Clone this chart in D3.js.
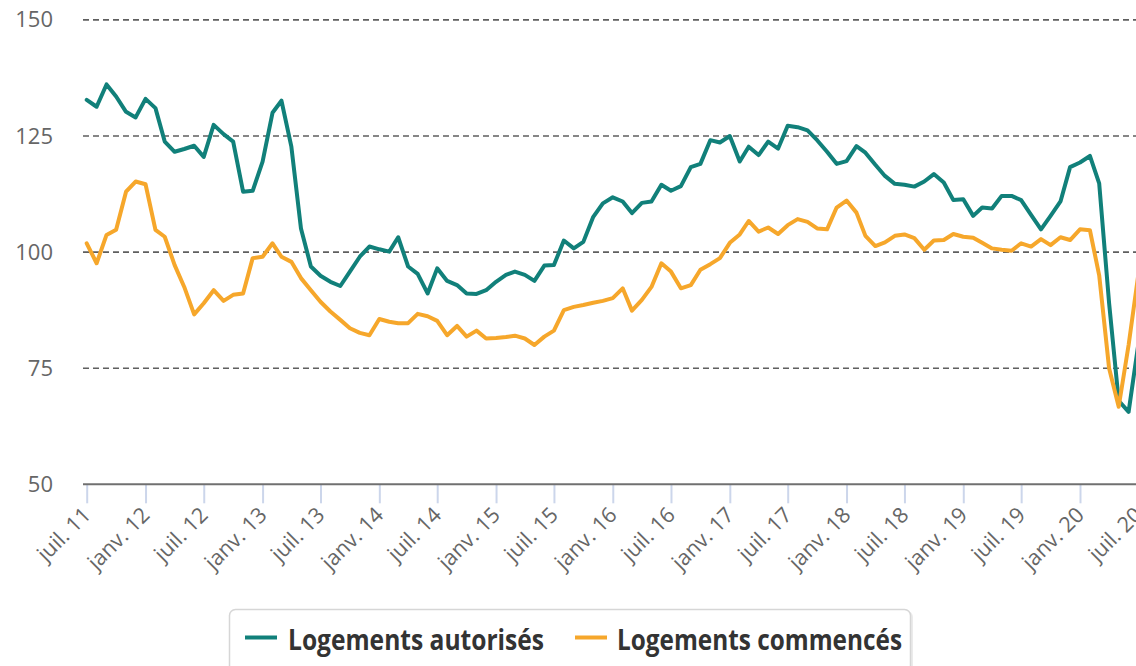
<!DOCTYPE html>
<html>
<head>
<meta charset="utf-8">
<script src="https://cdn.jsdelivr.net/npm/d3@7"></script>
<style>
  body { margin: 0; background: #fff; }
  svg { display: block; font-family: "Open Sans", sans-serif; }
</style>
</head>
<body>
<svg width="1136" height="666"></svg>
<script>
// Indices mensuels, de juillet 2011 a juillet 2020
var firstMonth = new Date(2011, 6, 1);

var autorises = [
    132.8, 131.3, 136.1, 133.5, 130.2, 129.0, 133.0, 131.0, 123.8, 121.6, 122.2, 122.9,
    120.5, 127.4, 125.4, 123.8, 113.0, 113.2, 119.5, 130.0, 132.6, 122.7, 105.1, 96.9,
    94.9, 93.6, 92.7, 95.8, 99.0, 101.2, 100.6, 100.1, 103.2, 96.9, 95.3, 91.1,
    96.5, 93.8, 92.9, 91.1, 91.0, 91.8, 93.6, 95.1, 95.8, 95.1, 93.8, 97.1,
    97.2, 102.5, 100.8, 102.2, 107.6, 110.5, 111.8, 110.9, 108.4, 110.6, 110.9, 114.5,
    113.2, 114.2, 118.3, 119.0, 124.1, 123.6, 125.0, 119.5, 122.7, 120.9, 123.8, 122.3,
    127.2, 126.9, 126.2, 124.1, 121.6, 119.0, 119.6, 122.8, 121.4, 118.8, 116.4, 114.7,
    114.5, 114.1, 115.2, 116.8, 115.0, 111.2, 111.4, 107.8, 109.6, 109.4, 112.1, 112.1,
    111.2, 108.0, 104.9, 107.8, 110.9, 118.3, 119.3, 120.7, 114.8, 89.0, 68.0, 65.6,
    80.0
];

var commences = [
    101.9, 97.6, 103.7, 104.8, 113.0, 115.2, 114.6, 104.8, 103.3, 97.2, 92.5, 86.6,
    89.0, 91.8, 89.5, 90.8, 91.1, 98.7, 99.0, 101.9, 99.0, 97.9, 94.4, 91.8,
    89.3, 87.2, 85.4, 83.6, 82.6, 82.1, 85.6, 85.0, 84.7, 84.7, 86.7, 86.2,
    85.2, 82.1, 84.1, 81.8, 83.1, 81.4, 81.5, 81.7, 82.0, 81.4, 80.0, 81.8,
    83.1, 87.5, 88.2, 88.6, 89.1, 89.5, 90.1, 92.2, 87.4, 89.7, 92.5, 97.6,
    95.8, 92.2, 92.9, 96.2, 97.4, 98.7, 102.0, 103.8, 106.7, 104.4, 105.3, 103.9,
    105.8, 107.1, 106.5, 105.1, 104.9, 109.6, 111.1, 108.5, 103.5, 101.3, 102.1, 103.5,
    103.8, 103.0, 100.5, 102.5, 102.6, 103.9, 103.3, 103.1, 102.0, 100.8, 100.5, 100.3,
    101.9, 101.2, 102.8, 101.5, 103.2, 102.6, 104.9, 104.7, 95.0, 75.0, 66.7, 80.0,
    95.0
];

var yTicks = [50, 75, 100, 125, 150];

var xTickLabels = ['juil. 11', 'janv. 12', 'juil. 12', 'janv. 13', 'juil. 13', 'janv. 14',
    'juil. 14', 'janv. 15', 'juil. 15', 'janv. 16', 'juil. 16', 'janv. 17', 'juil. 17',
    'janv. 18', 'juil. 18', 'janv. 19', 'juil. 19', 'janv. 20', 'juil. 20'];

var seriesNames = ['Logements autorisés', 'Logements commencés'];
var seriesColors = ['#11807a', '#f6a72b'];

// "juil. 11" -> date
function labelToDate(label) {
    var parts = label.split('. ');
    var month = parts[0] === 'janv' ? 0 : 6;
    return new Date(2000 + +parts[1], month, 1);
}

var svg = d3.select('svg');
var svgWidth = +svg.attr('width');

var x = d3.scaleTime()
    .domain([new Date(2011, 6, 1), new Date(2020, 0, 1)])
    .range([86.7, 1080]);

var y = d3.scaleLinear()
    .domain([50, 150])
    .range([484.3, 19.9]);

// grid lines
svg.append('g').selectAll('line')
    .data(yTicks.filter(d => d > 50))
    .enter().append('line')
    .attr('x1', 83).attr('x2', svgWidth)
    .attr('y1', d => y(d)).attr('y2', d => y(d))
    .attr('stroke', '#5f5f5f')
    .attr('stroke-width', 1.6)
    .attr('stroke-dasharray', '6,4');

// y labels
svg.append('g').selectAll('text')
    .data(yTicks)
    .enter().append('text')
    .attr('x', 53)
    .attr('y', d => y(d) + 7.5)
    .attr('text-anchor', 'end')
    .style('font-size', '22px')
    .style('fill', '#666')
    .text(d => d);

// x axis
var xAxis = d3.axisBottom(x)
    .tickValues(xTickLabels.map(labelToDate))
    .tickFormat((d, i) => xTickLabels[i])
    .tickSize(19)
    .tickSizeOuter(0);

var xAxisG = svg.append('g')
    .attr('transform', 'translate(0,' + y(50) + ')')
    .call(xAxis);

xAxisG.select('.domain').remove();
xAxisG.selectAll('.tick line')
    .attr('stroke', '#ccd6eb')
    .attr('stroke-width', 2);
xAxisG.selectAll('.tick text')
    .attr('y', 0).attr('dy', 0)
    .attr('transform', 'translate(5,32) rotate(-45)')
    .attr('text-anchor', 'end')
    .style('font-family', '"Open Sans", sans-serif')
    .style('font-size', '21.5px')
    .style('fill', '#666');

svg.append('line')
    .attr('x1', 83).attr('x2', svgWidth)
    .attr('y1', y(50)).attr('y2', y(50))
    .attr('stroke', '#707070')
    .attr('stroke-width', 2);

// lines
var line = d3.line()
    .x((d, i) => x(d3.timeMonth.offset(firstMonth, i)))
    .y(d => y(d));

[autorises, commences].forEach(function(values, k) {
    svg.append('path')
        .datum(values)
        .attr('d', line)
        .attr('fill', 'none')
        .attr('stroke', seriesColors[k])
        .attr('stroke-width', 4)
        .attr('stroke-linejoin', 'round')
        .attr('stroke-linecap', 'round');
});

// legend
var legend = svg.append('g');
legend.append('rect')
    .attr('x', 231).attr('y', 611)
    .attr('width', 682).attr('height', 80)
    .attr('rx', 6)
    .attr('fill', '#000')
    .attr('opacity', 0.08);
legend.append('rect')
    .attr('x', 229.5).attr('y', 609.5)
    .attr('width', 681).attr('height', 80)
    .attr('rx', 6)
    .attr('fill', '#fff')
    .attr('stroke', '#d6d6d6')
    .attr('stroke-width', 1.5);

var legendItems = [
    { lx: 245, tx: 288, tw: 256 },
    { lx: 575, tx: 617, tw: 285 }
];

legendItems.forEach(function(it, k) {
    legend.append('line')
        .attr('x1', it.lx).attr('x2', it.lx + 32)
        .attr('y1', 637.5).attr('y2', 637.5)
        .attr('stroke', seriesColors[k])
        .attr('stroke-width', 4);
    legend.append('text')
        .attr('x', it.tx).attr('y', 650)
        .attr('textLength', it.tw)
        .attr('lengthAdjust', 'spacingAndGlyphs')
        .style('font-size', '28px')
        .style('font-weight', 'bold')
        .style('fill', '#333')
        .text(seriesNames[k]);
});
</script>
</body>
</html>
